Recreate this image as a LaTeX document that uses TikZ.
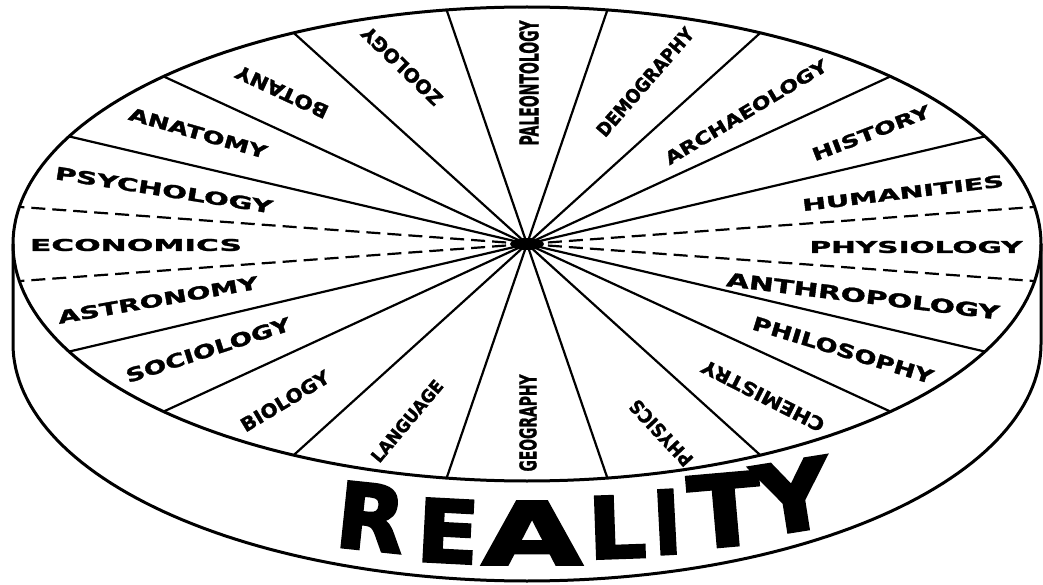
\documentclass[tikz,border=0pt]{standalone}
\usepackage{fontspec}
\setmainfont{DejaVu Sans}
\newfontfamily\labfont[FakeBold=1.5]{DejaVu Sans}
\newfontfamily\heavy[FakeBold=3]{DejaVu Sans}
\usepackage{graphicx}
\newcommand\lbl[6]{\node[lab,rotate=#4] (#1) at (#2,#3) {\resizebox{#5pt}{#6pt}{\labfont\bfseries #1}};}
\newcommand\rl[6]{\node[lab,rotate=#4] (#1) at (#2,#3) {\resizebox{#5pt}{#6pt}{\heavy\bfseries #1}};}
\begin{document}
\begin{tikzpicture}[x=1pt,y=-1pt,
  rim/.style={line width=3pt, line join=round},
  spoke/.style={line width=2.2pt},
  dspoke/.style={spoke, dash pattern=on 14pt off 7pt},
  lab/.style={inner sep=0pt, outer sep=0pt}]
\useasboundingbox (0,0) rectangle (1043,585);
\coordinate (c) at (527,244);
\foreach \k in {0,...,19}{
  \pgfmathsetmacro\t{9+18*\k}
  \coordinate (p\k) at ({527+514*cos(\t)},{244-237*sin(\t)});
}
% cylinder side
\draw[rim] (13,244) -- plot[domain=180:360,samples=121] ({527+514*cos(\x)},{344-237*sin(\x)}) -- (1041,244);
% top disc
\draw[rim] plot[domain=0:360,samples=241] ({527+514*cos(\x)},{244-237*sin(\x)}) -- cycle;
% spokes
\foreach \k in {1,2,3,4,5,6,7,8,11,12,13,14,15,16,17,18}{
  \draw[spoke] (c) -- (p\k);
}
\foreach \k in {0,9,10,19}{
  \draw[dspoke] (c) -- (p\k);
}
\fill (c) ellipse [x radius=17pt, y radius=6pt];
% labels
\lbl{PHYSIOLOGY}{916}{247}{0}{213}{12}
\lbl{HUMANITIES}{903}{193}{7}{203}{12}
\lbl{HISTORY}{871}{133}{21}{125}{13}
\lbl{ARCHAEOLOGY}{746}{112}{31}{186}{13}
\lbl{DEMOGRAPHY}{645}{82}{49}{137}{14}
\lbl{PALEONTOLOGY}{529}{83}{90}{125}{19}
\lbl{ZOOLOGY}{402}{66}{136}{104}{14}
\lbl{BOTANY}{282}{92}{155}{100}{14}
\lbl{ANATOMY}{198}{133}{-16}{143}{13}
\lbl{PSYCHOLOGY}{164}{190}{-9}{220}{13}
\lbl{ECONOMICS}{136}{245}{0}{212}{12}
\lbl{ASTRONOMY}{158}{300}{10}{203}{13}
\lbl{SOCIOLOGY}{208}{350}{18}{172}{14}
\lbl{BIOLOGY}{285}{401}{31}{100}{14}
\lbl{LANGUAGE}{407}{421}{50}{101}{13}
\lbl{GEOGRAPHY}{528}{423}{90}{97}{17}
\lbl{PHYSICS}{661}{433}{133}{83}{14}
\lbl{CHEMISTRY}{763}{396}{153}{135}{14}
\lbl{PHILOSOPHY}{843}{350}{-17}{188}{14}
\lbl{ANTHROPOLOGY}{863}{296}{-7}{275}{14}
% REALITY
\rl{R}{371}{517}{-6}{68}{66}
\rl{E}{448}{531}{-3}{62}{63}
\rl{A}{532}{533}{0}{100}{63}
\rl{L}{617}{527}{2}{58}{62}
\rl{I}{667}{522}{3}{28}{64}
\rl{T}{725}{510}{5}{72}{72}
\rl{Y}{793}{496}{9}{76}{70}
\end{tikzpicture}
\end{document}
